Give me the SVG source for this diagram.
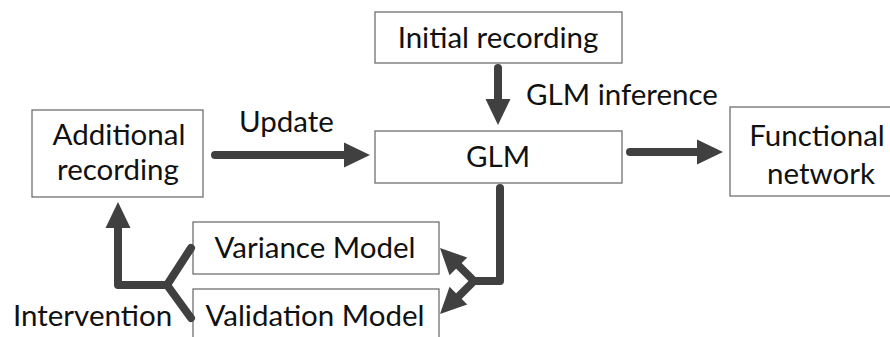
<svg xmlns="http://www.w3.org/2000/svg" xmlns:xlink="http://www.w3.org/1999/xlink" width="890" height="337" viewBox="0 0 890 337">
  <style>
    .box { fill: #ffffff; stroke: #707070; stroke-width: 1.3; }
    .lbl { font-family: Lato, "Liberation Sans", sans-serif; font-size: 29.5px; fill: #111111; }
    .mid { text-anchor: middle; }
    .wire { fill: none; stroke: #404040; stroke-width: 8; stroke-linecap: round; stroke-linejoin: round; }
    .tip { fill: #404040; }
  </style>
  <defs>
    <!-- arrowhead pointing along +x, tip at the origin -->
    <path id="ah" d="M0,0 L-26,-12.5 L-26,12.5 Z"/>
  </defs>
  <rect width="890" height="337" fill="#ffffff"/>

  <g id="initial-recording">
    <rect class="box" x="375" y="12" width="247" height="51"/>
    <text class="lbl mid" x="498" y="48">Initial recording</text>
  </g>

  <g id="glm">
    <rect class="box" x="375" y="131" width="247" height="52"/>
    <text class="lbl mid" x="498" y="167">GLM</text>
  </g>

  <g id="additional-recording">
    <rect class="box" x="32" y="110" width="171" height="87"/>
    <text class="lbl mid" x="119" y="145">Additional</text>
    <text class="lbl mid" x="118" y="180">recording</text>
  </g>

  <g id="functional-network">
    <rect class="box" x="730" y="107" width="170" height="89"/>
    <text class="lbl mid" x="817" y="146">Functional</text>
    <text class="lbl mid" x="821" y="184">network</text>
  </g>

  <g id="variance-model">
    <rect class="box" x="193" y="222" width="246" height="52"/>
    <text class="lbl mid" x="315" y="258">Variance Model</text>
  </g>

  <g id="validation-model">
    <rect class="box" x="193" y="289" width="246" height="60"/>
    <text class="lbl mid" x="315" y="326">Validation Model</text>
  </g>

  <g id="connectors">
    <!-- Initial recording -> GLM -->
    <path class="wire" d="M498,68 L498,100"/>
    <use xlink:href="#ah" class="tip" transform="translate(498,125) rotate(90)"/>
    <text class="lbl" x="526" y="105">GLM inference</text>

    <!-- Additional recording -> GLM -->
    <path class="wire" d="M215,155 L346,155"/>
    <use xlink:href="#ah" class="tip" transform="translate(370,155)"/>
    <text class="lbl" x="239" y="132">Update</text>

    <!-- GLM -> Functional network -->
    <path class="wire" d="M630,152 L700,152"/>
    <use xlink:href="#ah" class="tip" transform="translate(723,152)"/>

    <!-- GLM -> models -->
    <path class="wire" d="M500,188 L500,281 L474,281"/>
    <path class="wire" d="M474,281 L458,265"/>
    <path class="wire" d="M474,281 L458,297"/>
    <use xlink:href="#ah" class="tip" transform="translate(440,248) rotate(225)"/>
    <use xlink:href="#ah" class="tip" transform="translate(440,314) rotate(135)"/>

    <!-- models -> Additional recording (intervention) -->
    <path class="wire" d="M191,248 L167,285 L191,318"/>
    <path class="wire" d="M167,285 L118,285 L118,226"/>
    <use xlink:href="#ah" class="tip" transform="translate(118,202) rotate(-90)"/>
    <text class="lbl" x="13" y="326">Intervention</text>
  </g>
</svg>
